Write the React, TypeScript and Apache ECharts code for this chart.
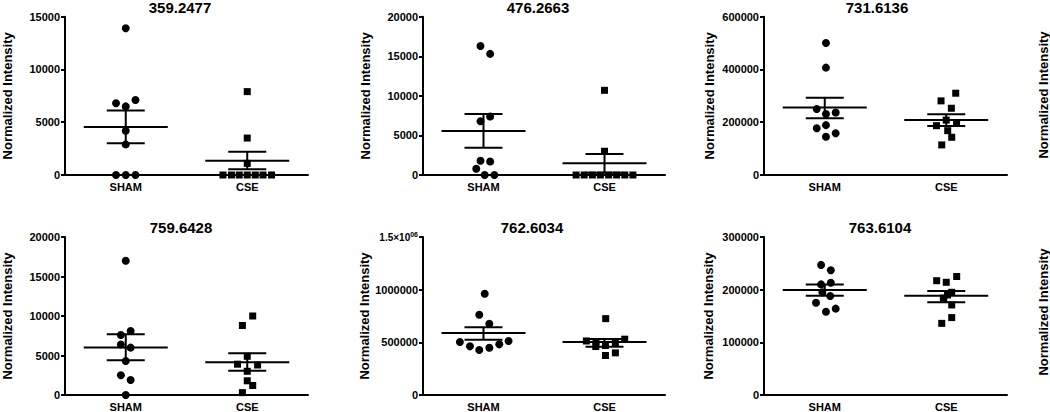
import React, { useEffect, useRef } from 'react';
import * as echarts from 'echarts';

const categories = ['SHAM', 'CSE'];
const panelTitles = ['359.2477', '476.2663', '731.6136', '759.6428', '762.6034', '763.6104'];
const yMaxValues = [15000, 20000, 600000, 20000, 1500000, 300000];
const yIntervals = [5000, 5000, 200000, 5000, 500000, 100000];
const yAxisName = 'Normalized Intensity';

// SHAM group values (circles) and their horizontal scatter offsets (x-axis units)
const shamValues = [
  [13900, 6800, 7100, 6500, 4200, 2900, 0, 0, 0],
  [16300, 15300, 6800, 7400, 1800, 1700, 800, 0, 0],
  [500000, 407000, 250000, 231000, 237000, 177000, 189000, 158000, 145000],
  [17000, 8100, 7600, 6400, 6000, 4300, 2500, 1900, 0],
  [962000, 762000, 677000, 503000, 462000, 427000, 449000, 481000, 513000],
  [247000, 237000, 210000, 213000, 195000, 188000, 175000, 164000, 158000],
];
const shamOffsets = [
  [0, -0.08, 0.08, 0, 0, 0, -0.08, 0, 0.08],
  [-0.025, 0.055, -0.025, 0.055, -0.025, 0.055, -0.06, 0.01, 0.09],
  [0.01, 0.01, -0.066, 0.01, 0.09, -0.066, 0.01, 0.09, 0.01],
  [0, 0.04, -0.04, -0.04, 0.04, 0, -0.04, 0.04, 0],
  [0.01, -0.035, 0.048, -0.195, -0.112, -0.035, 0.048, 0.13, 0.207],
  [-0.03, 0.05, -0.03, 0.05, -0.02, 0.045, -0.072, 0.09, 0.01],
];

// CSE group values (squares) and their offsets
const cseValues = [
  [7900, 3500, 1100, 0, 0, 0, 0, 0, 0, 0],
  [10700, 3000, 0, 0, 0, 0, 0, 0, 0, 0],
  [310000, 281000, 253000, 208000, 187000, 198000, 168000, 143000, 114000],
  [10000, 8800, 4900, 3900, 3800, 3000, 1800, 1200, 300],
  [725000, 513000, 530000, 460000, 470000, 490000, 375000, 400000, 505000],
  [217000, 214000, 225000, 195000, 184000, 190000, 171000, 147000, 136000],
];
const cseOffsets = [
  [0, 0, 0, -0.2, -0.13, -0.066, 0, 0.066, 0.13, 0.2],
  [0, 0, -0.235, -0.168, -0.1, -0.034, 0.034, 0.1, 0.168, 0.235],
  [0.078, -0.043, 0.042, 0, -0.08, 0.085, 0.012, 0.045, -0.037],
  [0.045, -0.04, 0, -0.08, 0.085, 0, 0, 0.045, -0.04],
  [0.01, -0.15, 0.167, -0.072, 0.008, 0.09, 0.008, 0.09, -0.07],
  [-0.079, 0, 0.086, 0.045, -0.024, 0.01, 0.045, 0.045, -0.037],
];

// Mean and SEM bounds
const shamMean = [4550, 5560, 256000, 6000, 589000, 199400];
const shamSemLow = [3000, 3450, 215000, 4400, 525000, 188600];
const shamSemHigh = [6100, 7700, 293000, 7700, 643000, 210000];
const cseMean = [1360, 1480, 208000, 4150, 503000, 188600];
const cseSemLow = [540, 300, 186000, 3080, 459000, 176000];
const cseSemHigh = [2200, 2650, 230000, 5280, 532000, 197500];

const FONT = '"Liberation Sans", Arial, Helvetica, sans-serif';

export default function App() {
  const ref = useRef<HTMLDivElement>(null);

  useEffect(() => {
    if (!ref.current) return;
    const chart = echarts.init(ref.current, undefined, { renderer: 'svg' });

    const colLeft = [65, 423, 764];
    const colWidth = [243, 242, 243];
    const rowTop = [16.7, 237];
    const rowHeight = [158.3, 158];
    const nameGaps = [51, 51.5, 48.5, 51, 52, 49.5];
    const titleX = [180, 538, 877, 181, 532, 880];
    const titleY = [7.5, 7.5, 7.5, 227, 227, 227];

    const grids: any[] = [];
    const xAxes: any[] = [];
    const yAxes: any[] = [];
    const series: any[] = [];
    const graphics: any[] = [];

    for (let i = 0; i < 6; i++) {
      const col = i % 3;
      const row = Math.floor(i / 3);
      grids.push({
        left: colLeft[col],
        top: rowTop[row],
        width: colWidth[col],
        height: rowHeight[row],
        containLabel: false,
      });
      xAxes.push({
        type: 'value',
        gridIndex: i,
        min: 0.5,
        max: 2.5,
        show: false,
        position: 'bottom',
      });
      xAxes.push({
        type: 'category',
        gridIndex: i,
        data: categories,
        position: 'bottom',
        boundaryGap: true,
        axisLine: { onZero: false, lineStyle: { color: '#000', width: 2 } },
        axisTick: { show: false },
        splitLine: { show: false },
        axisLabel: {
          margin: 6,
          color: '#000',
          fontSize: 11,
          fontWeight: 'bold',
          fontFamily: FONT,
        },
      });
      const isSci = i === 4;
      yAxes.push({
        type: 'value',
        gridIndex: i,
        min: 0,
        max: yMaxValues[i],
        interval: yIntervals[i],
        name: yAxisName,
        nameLocation: 'middle',
        nameRotate: 90,
        nameGap: nameGaps[i],
        nameTextStyle: {
          color: '#000',
          fontSize: 13,
          fontWeight: 'bold',
          fontFamily: FONT,
        },
        axisLine: { show: true, onZero: false, lineStyle: { color: '#000', width: 2 } },
        axisTick: { show: true, length: 4, lineStyle: { color: '#000', width: 2 } },
        splitLine: { show: false },
        axisLabel: {
          margin: 5,
          color: '#000',
          fontSize: 11,
          fontWeight: 'bold',
          fontFamily: FONT,
          formatter: (v: number) => {
            if (isSci && v === 1500000) return '{m|1.5×10}{e|06}';
            return String(v);
          },
          rich: {
            m: { fontSize: 10, fontWeight: 'bold', color: '#000', fontFamily: FONT },
            e: {
              fontSize: 7,
              fontWeight: 'bold',
              color: '#000',
              fontFamily: FONT,
              verticalAlign: 'top',
              padding: [0, 0, 6, 0],
            },
          },
        },
      });

      series.push({
        type: 'scatter',
        xAxisIndex: 2 * i,
        yAxisIndex: i,
        symbol: 'circle',
        symbolSize: 8,
        itemStyle: { color: '#000', opacity: 1 },
        data: shamValues[i].map((v, k) => [1 + shamOffsets[i][k], v]),
        z: 2,
      });
      series.push({
        type: 'scatter',
        xAxisIndex: 2 * i,
        yAxisIndex: i,
        symbol: 'rect',
        symbolSize: 7,
        itemStyle: { color: '#000', opacity: 1 },
        data: cseValues[i].map((v, k) => [2 + cseOffsets[i][k], v]),
        z: 2,
      });
      series.push({
        type: 'custom',
        xAxisIndex: 2 * i,
        yAxisIndex: i,
        z: 3,
        encode: { x: 0, y: [1, 2, 3] },
        data: [
          [1, shamMean[i], shamSemLow[i], shamSemHigh[i]],
          [2, cseMean[i], cseSemLow[i], cseSemHigh[i]],
        ],
        renderItem: (params: any, api: any) => {
          const x = api.value(0);
          const pm = api.coord([x, api.value(1)]);
          const plo = api.coord([x, api.value(2)]);
          const phi = api.coord([x, api.value(3)]);
          const st = { stroke: '#000', lineWidth: 2, fill: 'none' };
          const meanHalf = 42;
          const semHalf = 19;
          return {
            type: 'group',
            children: [
              { type: 'line', shape: { x1: pm[0] - meanHalf, y1: pm[1], x2: pm[0] + meanHalf, y2: pm[1] }, style: st },
              { type: 'line', shape: { x1: phi[0] - semHalf, y1: phi[1], x2: phi[0] + semHalf, y2: phi[1] }, style: st },
              { type: 'line', shape: { x1: plo[0] - semHalf, y1: plo[1], x2: plo[0] + semHalf, y2: plo[1] }, style: st },
              { type: 'line', shape: { x1: pm[0], y1: phi[1], x2: pm[0], y2: plo[1] }, style: st },
            ],
          };
        },
      });

      graphics.push({
        type: 'text',
        x: titleX[i],
        y: titleY[i],
        style: {
          text: panelTitles[i],
          font: `bold 15px ${FONT}`,
          fill: '#000',
          align: 'center',
          verticalAlign: 'middle',
          textAlign: 'center',
          textVerticalAlign: 'middle',
        },
      });
    }

    // Partially visible axis names of neighbouring panels at the right edge
    [95, 312].forEach((cy) => {
      graphics.push({
        type: 'text',
        x: 1043,
        y: cy,
        rotation: Math.PI / 2,
        style: {
          text: yAxisName,
          font: `bold 13px ${FONT}`,
          fill: '#000',
          align: 'center',
          verticalAlign: 'middle',
          textAlign: 'center',
          textVerticalAlign: 'middle',
        },
      });
    });

    chart.setOption({
      animation: false,
      backgroundColor: '#fff',
      grid: grids,
      xAxis: xAxes,
      yAxis: yAxes,
      series,
      graphic: graphics,
    });

    return () => {
      chart.dispose();
    };
  }, []);

  return (
    <div
      ref={ref}
      style={{ position: 'fixed', left: 0, top: 0, width: 1050, height: 412, background: '#fff' }}
    />
  );
}
